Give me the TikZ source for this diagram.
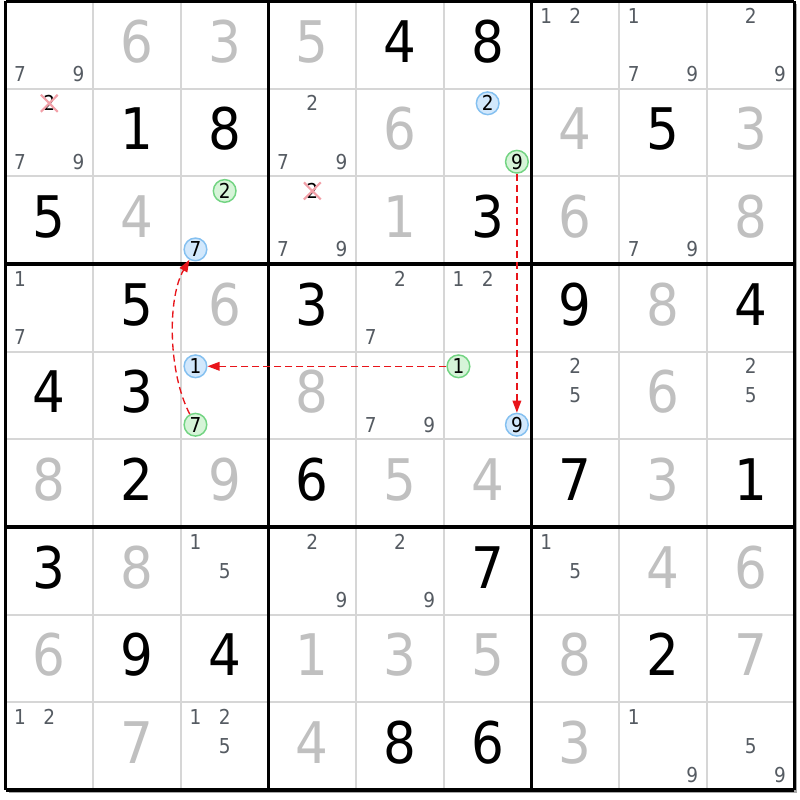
\documentclass[tikz,border=0pt]{standalone}
\usepackage{fontspec}
\setmainfont{DejaVu Sans Condensed}
\usetikzlibrary{arrows.meta,shapes.misc}
\definecolor{givcol}{HTML}{000000}
\definecolor{solcol}{HTML}{C0C0C0}
\definecolor{candcol}{HTML}{555B62}
\definecolor{thincol}{HTML}{D6D6D6}
\definecolor{blueF}{HTML}{D2E8FC}
\definecolor{blueL}{HTML}{84C0F0}
\definecolor{greenF}{HTML}{D6F4D8}
\definecolor{greenL}{HTML}{72D482}
\definecolor{arrcol}{HTML}{E8141A}
\definecolor{crosscol}{HTML}{F2A0A8}
\definecolor{shadowcol}{HTML}{A8A8A8}
\begin{document}
\begin{tikzpicture}[x=0.75pt,y=-0.75pt,
  bigdigit/.style={font=\fontsize{43}{43}\selectfont, inner sep=0pt,
    text height=31.35pt, text depth=0pt, anchor=center},
  givdigit/.style={bigdigit, text=givcol},
  soldigit/.style={bigdigit, text=solcol},
  canddigit/.style={font=\fontsize{15.4}{15.4}\selectfont, inner sep=0pt,
    text height=11.2pt, text depth=0pt, anchor=center, text=candcol},
  circcand/.style={canddigit, text=black, circle, minimum size=17pt, line width=1.1pt},
  elimcand/.style={canddigit, text=black, cross out, draw=crosscol, line width=1.6pt, minimum size=11pt},
  thinline/.style={draw=thincol, line width=1.5pt},
  thickline/.style={draw=black, line width=2.5pt},
  linkarrow/.style={draw=arrcol, line width=1pt, dash pattern=on 5.25pt off 3pt,
    -{Triangle[length=9pt,width=6.5pt]}}
]
\useasboundingbox (0,0) rectangle (800,800);
% shadow and paper
\fill[shadowcol] (8.5,4) rectangle (797,793);
\fill[white] (5.5,1) rectangle (794,790);
% thin lines
\foreach \i in {1,2,4,5,7,8}{
  \draw[thinline] ({5.5+\i*87.67},1) -- ({5.5+\i*87.67},790);
  \draw[thinline] (5.5,{1+\i*87.67}) -- (794,{1+\i*87.67});
}
% thick lines
\foreach \i in {0,3,6,9}{
  \draw[thickline] ({5.5+\i*87.67},1) -- ({5.5+\i*87.67},790);
  \draw[thickline] (5.5,{1+\i*87.67}) -- (794,{1+\i*87.67});
}
% given digits
\foreach \r/\c/\d in {1/5/4,1/6/8,2/2/1,2/3/8,2/8/5,3/1/5,3/6/3,4/2/5,4/4/3,4/7/9,4/9/4,
  5/1/4,5/2/3,6/2/2,6/4/6,6/7/7,6/9/1,7/1/3,7/6/7,8/2/9,8/3/4,8/8/2,9/5/8,9/6/6}{
  \node[givdigit] (g\r\c) at ({5.5+(\c-0.5)*87.67},{1+(\r-0.5)*87.67-3.5}) {\d};
}
% solved digits
\foreach \r/\c/\d in {1/2/6,1/3/3,1/4/5,2/5/6,2/7/4,2/9/3,3/2/4,3/5/1,3/7/6,3/9/8,4/3/6,4/8/8,
  5/4/8,5/8/6,6/1/8,6/3/9,6/5/5,6/6/4,6/8/3,7/2/8,7/8/4,7/9/6,8/1/6,8/4/1,8/5/3,8/6/5,8/7/8,8/9/7,
  9/2/7,9/4/4,9/7/3}{
  \node[soldigit] (s\r\c) at ({5.5+(\c-0.5)*87.67},{1+(\r-0.5)*87.67-3.5}) {\d};
}
% plain candidates
\foreach \r/\c/\d in {1/1/7,1/1/9,1/7/1,1/7/2,1/8/1,1/8/7,1/8/9,1/9/2,1/9/9,
  2/1/7,2/1/9,2/4/2,2/4/7,2/4/9,3/4/7,3/4/9,3/8/7,3/8/9,
  4/1/1,4/1/7,4/5/2,4/5/7,4/6/1,4/6/2,5/5/7,5/5/9,5/7/2,5/7/5,5/9/2,5/9/5,
  7/3/1,7/3/5,7/4/2,7/4/9,7/5/2,7/5/9,7/7/1,7/7/5,
  9/1/1,9/1/2,9/3/1,9/3/2,9/3/5,9/8/1,9/8/9,9/9/5,9/9/9}{
  \pgfmathtruncatemacro\mr{(\d-1)/3}
  \pgfmathtruncatemacro\mc{\d-1-3*\mr}
  \node[canddigit] (k\r\c\d) at ({5.5+(\c-1)*87.67+(\mc+0.5)*29.22},{1+(\r-1)*87.67+(\mr+0.5)*29.22}) {\d};
}
% eliminated candidates
\foreach \r/\c/\d in {2/1/2,3/4/2}{
  \pgfmathtruncatemacro\mr{(\d-1)/3}
  \pgfmathtruncatemacro\mc{\d-1-3*\mr}
  \node[elimcand] (k\r\c\d) at ({5.5+(\c-1)*87.67+(\mc+0.5)*29.22},{1+(\r-1)*87.67+(\mr+0.5)*29.22}) {\d};
}
% circled candidates
\foreach \r/\c/\d/\fc/\lc in {2/6/2/blueF/blueL,2/6/9/greenF/greenL,3/3/2/greenF/greenL,3/3/7/blueF/blueL,
  5/3/1/blueF/blueL,5/3/7/greenF/greenL,5/6/1/greenF/greenL,5/6/9/blueF/blueL}{
  \pgfmathtruncatemacro\mr{(\d-1)/3}
  \pgfmathtruncatemacro\mc{\d-1-3*\mr}
  \node[circcand, fill=\fc, draw=\lc] (k\r\c\d) at ({5.5+(\c-1)*87.67+(\mc+0.5)*29.22},{1+(\r-1)*87.67+(\mr+0.5)*29.22}) {\d};
}
% links
\draw[linkarrow] (k269) -- (k569);
\draw[linkarrow] (k561) -- (k531);
\draw[linkarrow] (k537) to[out=118,in=240,looseness=0.75] (k337);
\end{tikzpicture}
\end{document}
